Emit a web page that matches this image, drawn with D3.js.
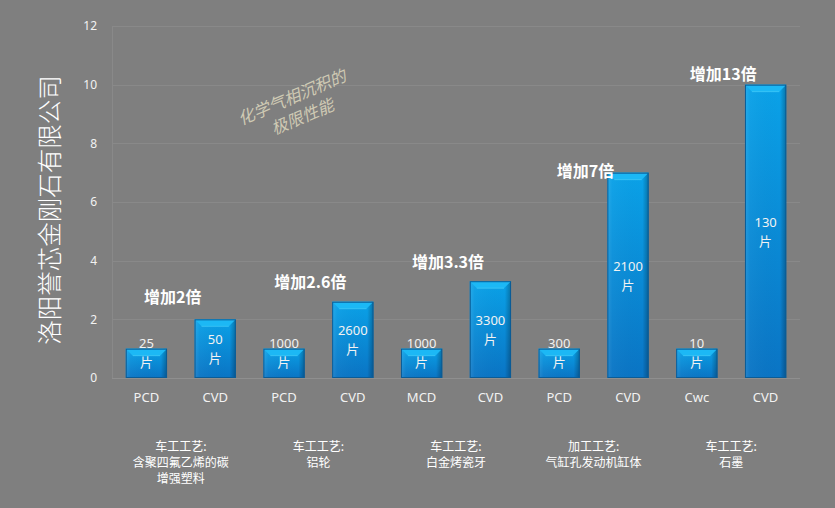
<!DOCTYPE html>
<html>
<head>
<meta charset="utf-8">
<script src="https://cdn.jsdelivr.net/npm/d3@7/dist/d3.min.js"></script>
<style>
  html, body { margin: 0; padding: 0; background: #7f7f7f; }
  #root { width: 835px; height: 508px; }
  text { font-family: "Noto Sans", "Noto Sans CJK SC", sans-serif; }
  .cjk { font-family: "Noto Sans CJK SC", sans-serif; }
</style>
</head>
<body>
<div id="root"></div>
<script>
// categories along the x axis
var categories = ["PCD", "CVD", "PCD", "CVD", "MCD", "CVD", "PCD", "CVD", "Cwc", "CVD"];
// bar heights (relative life)
var values = [1, 2, 1, 2.6, 1, 3.3, 1, 7, 1, 10];
// pieces machined, shown inside the bars
var pieces = ["25", "50", "1000", "2600", "1000", "3300", "300", "2100", "10", "130"];
// group labels below the axis (one per pair of bars)
var groups = [
    ["车工工艺:", "含聚四氟乙烯的碳", "增强塑料"],
    ["车工工艺:", "铝轮"],
    ["车工工艺:", "白金烤瓷牙"],
    ["加工工艺:", "气缸孔发动机缸体"],
    ["车工工艺:", "石墨"]
];
// increase notes above each pair and the value level they sit at
var notes = ["增加2倍", "增加2.6倍", "增加3.3倍", "增加7倍", "增加13倍"];
var noteAt = [2.76, 3.27, 3.95, 7.06, 10.36];
var yTicks = [0, 2, 4, 6, 8, 10, 12];

var width = 835, height = 508;
var margin = {top: 26, right: 35, bottom: 130, left: 112};

var svg = d3.select("#root").append("svg")
    .attr("width", width)
    .attr("height", height);

svg.append("rect").attr("width", width).attr("height", height).attr("fill", "#7f7f7f");

var x = d3.scaleBand()
    .domain(d3.range(categories.length))
    .range([margin.left, width - margin.right])
    .paddingInner(0.4)
    .paddingOuter(0.2);

var y = d3.scaleLinear()
    .domain([0, 12])
    .range([height - margin.bottom, margin.top]);

// gradients
var defs = svg.append("defs");
var g1 = defs.append("linearGradient").attr("id", "barFill").attr("x1", 0).attr("y1", 0).attr("x2", 0).attr("y2", 1);
g1.append("stop").attr("offset", "0%").attr("stop-color", "#0aa2e8");
g1.append("stop").attr("offset", "100%").attr("stop-color", "#0a74c4");
var g2 = defs.append("linearGradient").attr("id", "barSide").attr("x1", 0).attr("y1", 0).attr("x2", 1).attr("y2", 0);
g2.append("stop").attr("offset", "0%").attr("stop-color", "#ffffff").attr("stop-opacity", 0.12);
g2.append("stop").attr("offset", "12%").attr("stop-color", "#ffffff").attr("stop-opacity", 0.03);
g2.append("stop").attr("offset", "85%").attr("stop-color", "#000000").attr("stop-opacity", 0);
g2.append("stop").attr("offset", "100%").attr("stop-color", "#000000").attr("stop-opacity", 0.28);

// gridlines
svg.append("g")
    .selectAll("line")
    .data(yTicks)
    .enter()
    .append("line")
    .attr("x1", margin.left)
    .attr("x2", width - margin.right)
    .attr("y1", function(d){ return Math.round(y(d)) + 0.5; })
    .attr("y2", function(d){ return Math.round(y(d)) + 0.5; })
    .attr("stroke", function(d){ return d === 0 ? "#8f8f8f" : "#898989"; })
    .attr("stroke-width", 1);

// left axis line
svg.append("line")
    .attr("x1", margin.left + 0.5).attr("x2", margin.left + 0.5)
    .attr("y1", y(12)).attr("y2", y(0))
    .attr("stroke", "#898989");

// y tick labels
svg.append("g")
    .selectAll("text")
    .data(yTicks)
    .enter()
    .append("text")
    .attr("x", 97)
    .attr("y", function(d){ return y(d); })
    .attr("dy", "0.35em")
    .attr("text-anchor", "end")
    .attr("fill", "#f2f2f2")
    .style("font-size", "12px")
    .text(function(d){ return d; });

// bars
var bars = svg.append("g").selectAll("g")
    .data(values)
    .enter()
    .append("g");

var bw = x.bandwidth();

bars.append("rect")
    .attr("x", function(d, i){ return x(i); })
    .attr("y", function(d){ return y(d); })
    .attr("width", bw)
    .attr("height", function(d){ return y(0) - y(d); })
    .attr("fill", "url(#barFill)");

bars.append("rect")
    .attr("x", function(d, i){ return x(i); })
    .attr("y", function(d){ return y(d); })
    .attr("width", bw)
    .attr("height", function(d){ return y(0) - y(d); })
    .attr("fill", "url(#barSide)");

// top bevel
bars.append("path")
    .attr("d", function(d, i){
        var x0 = x(i), x1 = x(i) + bw, t = y(d), b = 7;
        return "M" + x0 + "," + t + "L" + x1 + "," + t + "L" + (x1 - b) + "," + (t + b) + "L" + (x0 + b) + "," + (t + b) + "Z";
    })
    .attr("fill", "#1cb8f5");

bars.append("path")
    .attr("d", function(d, i){
        var x0 = x(i), x1 = x(i) + bw, t = y(d), b = 7;
        return "M" + (x0 + b) + "," + (t + b) + "L" + (x1 - b) + "," + (t + b);
    })
    .attr("stroke", "#4fd0fa").attr("stroke-width", 1).attr("opacity", 0.6);

bars.append("rect")
    .attr("x", function(d, i){ return x(i) + 0.5; })
    .attr("y", function(d){ return y(d) + 0.5; })
    .attr("width", bw - 1)
    .attr("height", function(d){ return y(0) - y(d) - 1; })
    .attr("fill", "none")
    .attr("stroke", "#0b5c96")
    .attr("stroke-width", 1);

// piece labels
var labels = svg.append("g").selectAll("text")
    .data(values)
    .enter()
    .append("text")
    .attr("text-anchor", "middle")
    .attr("fill", "#f2f2f2")
    .style("font-size", "13px")
    .attr("transform", function(d, i){
        var mid = Math.min((y(d) + y(0)) / 2, y(1) + 4);
        return "translate(" + (x(i) + bw / 2) + "," + mid + ")";
    });

labels.append("tspan")
    .attr("x", 0).attr("y", -9).attr("dy", "0.35em")
    .text(function(d, i){ return pieces[i]; });
labels.append("tspan")
    .attr("class", "cjk")
    .attr("x", 0).attr("y", 10).attr("dy", "0.35em")
    .text("片");

// category labels
svg.append("g").selectAll("text")
    .data(categories)
    .enter()
    .append("text")
    .attr("x", function(d, i){ return x(i) + bw / 2; })
    .attr("y", 397)
    .attr("dy", "0.35em")
    .attr("text-anchor", "middle")
    .attr("fill", "#f2f2f2")
    .style("font-size", "13px")
    .text(function(d){ return d; });

function pairMid(k){
    return (x(2 * k) + x(2 * k + 1) + bw) / 2;
}

// group labels, one text per line
svg.append("g").selectAll("g")
    .data(groups)
    .enter()
    .append("g")
    .attr("transform", function(d, i){ return "translate(" + pairMid(i) + ",447)"; })
    .selectAll("text")
    .data(function(d){ return d; })
    .enter()
    .append("text")
    .attr("class", "cjk")
    .attr("x", 0)
    .attr("y", function(d, j){ return j * 16; })
    .attr("dy", "0.35em")
    .attr("text-anchor", "middle")
    .attr("fill", "#ffffff")
    .style("font-size", "12px")
    .text(function(d){ return d; });

// increase notes
svg.append("g").selectAll("text")
    .data(notes)
    .enter()
    .append("text")
    .attr("class", "cjk")
    .attr("x", function(d, i){ return pairMid(i) - 8; })
    .attr("y", function(d, i){ return y(noteAt[i]); })
    .attr("dy", "0.35em")
    .attr("text-anchor", "middle")
    .attr("fill", "#ffffff")
    .style("font-size", "16px")
    .style("font-weight", "bold")
    .text(function(d){ return d; });

// y title
svg.append("text")
    .attr("class", "cjk")
    .attr("transform", "translate(50,210) rotate(-90)")
    .attr("dy", "0.35em")
    .attr("text-anchor", "middle")
    .attr("fill", "#ffffff")
    .style("font-size", "24.5px")
    .style("font-weight", 300)
    .text("洛阳誉芯金刚石有限公司");

// watermark
var wm = svg.append("text")
    .attr("class", "cjk")
    .attr("transform", "translate(300,106) rotate(-23)")
    .attr("text-anchor", "middle")
    .attr("fill", "#cfcab4")
    .style("font-size", "16.5px")
    .style("font-style", "italic");
wm.append("tspan").attr("x", -4).attr("y", -11).attr("dy", "0.35em").text("化学气相沉积的");
wm.append("tspan").attr("x", -2).attr("y", 11).attr("dy", "0.35em").text("极限性能");
</script>
</body>
</html>
